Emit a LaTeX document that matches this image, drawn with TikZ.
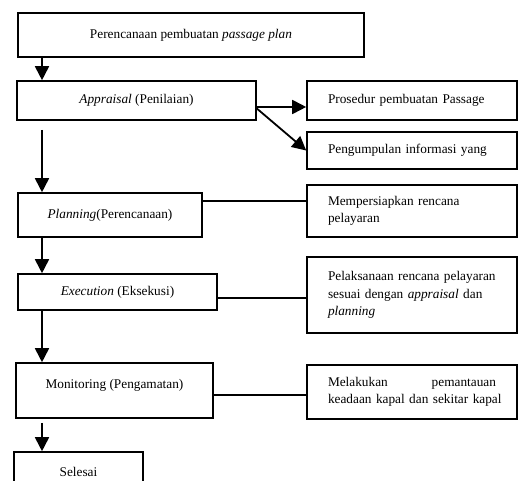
\documentclass[tikz,border=0pt]{standalone}
\usepackage{fontspec}
\setmainfont{Liberation Serif}
\usetikzlibrary{arrows.meta}

\begin{document}
\begin{tikzpicture}[x=1pt,y=-1pt,
		font=\fontsize{13.3}{17.5}\selectfont,
		box/.style={draw, line width=1.6pt, fill=white, inner sep=0pt},
		side/.style={box, text width=168pt, inner xsep=21pt, align=left, minimum width=210pt},
		arr/.style={line width=1.8pt, -{Triangle[width=14pt,length=14pt]}},
		link/.style={line width=1.8pt}]
		\useasboundingbox (0,0) rectangle (523,481);
		\clip (0,0) rectangle (523,481);
		
		% main steps
		\node[box, minimum width=346pt, minimum height=44pt] (plan) at (191,35) {Perencanaan pembuatan \textit{passage plan}};
		\node[box, minimum width=239pt, minimum height=39pt] (apr) at (136.5,100.5) {\textit{Appraisal} (Penilaian)};
		\node[box, minimum width=184pt, minimum height=44pt] (pln) at (110,215) {\textit{Planning}(Perencanaan)};
		\node[box, minimum width=199pt, minimum height=36pt] (exe) at (117.5,292) {\textit{Execution} (Eksekusi)};
		\node[box, minimum width=197pt, minimum height=55pt, text depth=14pt] (mon) at (114.5,390.5) {Monitoring (Pengamatan)};
		\node[box, minimum width=129pt, minimum height=40pt] (end) at (78.5,472) {Selesai};
		
		% notes on the right
		\node[side, minimum height=39pt] (pros) at (412,100.5) {Prosedur pembuatan Passage};
		\node[side, minimum height=37pt] (info) at (412,150.5) {Pengumpulan informasi yang};
		\node[side, minimum height=52pt] (siap) at (412,211) {Mempersiapkan rencana\\pelayaran};
		\node[side, minimum height=76pt] (laks) at (412,295) {Pelaksanaan rencana pelayaran\\sesuai dengan \textit{appraisal} dan\\\textit{planning}};
		\node[side, minimum height=54pt] (pant) at (412,392) {Melakukan\hfill pemantauan\\\mbox{keadaan kapal dan sekitar kapal}};
		
		% down arrows
		\coordinate (spine) at (42,0);
		\draw[arr] (plan.south -| spine) -- (apr.north -| spine);
		\draw[arr, shorten <=9pt] (apr.south -| spine) -- (pln.north -| spine);
		\draw[arr] (pln.south -| spine) -- (exe.north -| spine);
		\draw[arr] (exe.south -| spine) -- (mon.north -| spine);
		\draw[arr, shorten <=4pt] (mon.south -| spine) -- (end.north -| spine);
		
		% side links
		\draw[arr] ([yshift=-6.5pt]apr.east) -- ([yshift=-6.5pt]apr.east -| pros.west);
		\draw[arr] ([yshift=-8pt]apr.east) -- (info.west);
		\draw[link] ([yshift=14pt]pln.east) -- ([yshift=14pt]pln.east -| siap.west);
		\draw[link] ([yshift=-6pt]exe.east) -- ([yshift=-6pt]exe.east -| laks.west);
		\draw[link] ([yshift=-4.5pt]mon.east) -- ([yshift=-4.5pt]mon.east -| pant.west);
	\end{tikzpicture}
\end{document}
